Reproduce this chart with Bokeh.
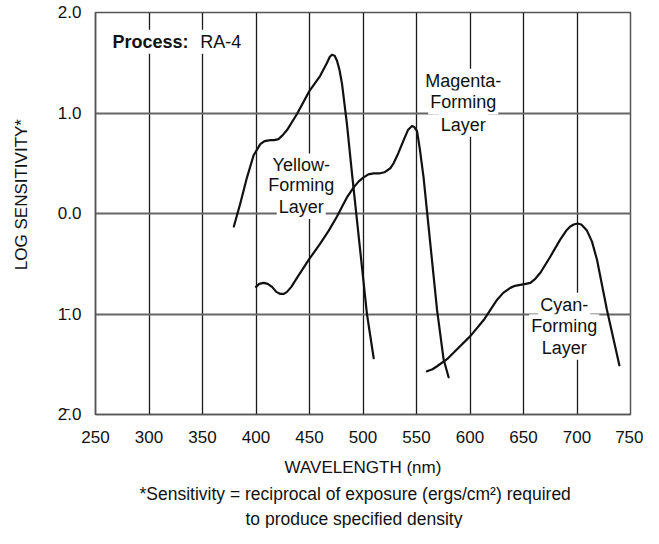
from bokeh.plotting import figure
from bokeh.models import Range1d, Label, Title
from bokeh.embed import file_html
from bokeh.resources import INLINE

FONT = "Liberation Sans"

# ---- data ----
x_ticks = [250, 300, 350, 400, 450, 500, 550, 600, 650, 700, 750]
y_ticks = [-2, -1, 0, 1, 2]
y_tick_labels = ["2\u0304.0", "1\u0304.0", "0.0", "1.0", "2.0"]

yellow_nm = [379.3, 385.3, 391.6, 397.8, 404, 408, 413.4, 417, 421, 425, 429, 438.3,
             450, 460, 466.4, 469, 471, 473.5, 475.7, 478, 480.4, 485, 489.7, 494.4,
             503.7, 510]
yellow_val = [-0.13, 0.10, 0.36, 0.58, 0.69, 0.72, 0.73, 0.73, 0.74, 0.78, 0.83, 0.99,
              1.22, 1.37, 1.50, 1.56, 1.58, 1.57, 1.52, 1.43, 1.29, 0.89, 0.40, -0.07,
              -1.0, -1.44]

magenta_nm = [400, 403, 407, 411, 415, 419, 422.7, 426, 429, 433, 438.3, 450, 460, 468,
              475.7, 481, 485, 491.3, 496, 500.6, 505, 510, 516, 520, 525.5, 528.6, 533,
              538, 542, 545.8, 548, 550.5, 553, 556.6, 562.9, 569.2, 575.3, 580]
magenta_val = [-0.73, -0.70, -0.69, -0.70, -0.73, -0.78, -0.80, -0.80, -0.78, -0.73, -0.64,
               -0.45, -0.30, -0.17, -0.03, 0.08, 0.16, 0.26, 0.32, 0.36, 0.39, 0.40, 0.40,
               0.41, 0.45, 0.50, 0.60, 0.73, 0.83, 0.87, 0.86, 0.82, 0.65, 0.36, -0.30,
               -0.96, -1.45, -1.63]

cyan_nm = [559.8, 565, 569.2, 578.5, 587.9, 600.3, 612.8, 625.2, 631, 637.7, 642, 647, 652,
           656.4, 661, 665.8, 675, 684.3, 690, 693.7, 697, 700.6, 704, 709.3, 714, 718.7,
           728, 739.6]
cyan_val = [-1.57, -1.55, -1.52, -1.45, -1.35, -1.22, -1.06, -0.86, -0.79, -0.74, -0.72,
            -0.71, -0.70, -0.69, -0.65, -0.59, -0.43, -0.26, -0.17, -0.13, -0.11, -0.10,
            -0.11, -0.17, -0.28, -0.46, -0.96, -1.51]

# ---- figure ----
p = figure(width=643, height=528, title=None,
           x_range=Range1d(250, 750), y_range=Range1d(-2, 2),
           output_backend="svg", toolbar_location=None,
           min_border_left=95, min_border_right=13,
           min_border_top=12, min_border_bottom=112)
p.background_fill_color = "white"
p.border_fill_color = "white"
p.outline_line_color = "#555555"
p.outline_line_width = 1.5

p.xaxis.ticker = x_ticks
p.yaxis.ticker = y_ticks
p.yaxis.major_label_overrides = {t: s for t, s in zip(y_ticks, y_tick_labels)}

for ax in (p.xaxis[0], p.yaxis[0]):
    ax.axis_line_color = "#555555"
    ax.axis_line_width = 1.5
    ax.major_tick_line_color = None
    ax.minor_tick_line_color = None
    ax.major_tick_out = 0
    ax.major_tick_in = 0
    ax.major_label_text_font = FONT
    ax.major_label_text_font_size = "17px"
    ax.major_label_text_color = "#111111"
    ax.axis_label_text_font = FONT
    ax.axis_label_text_font_size = "17px"
    ax.axis_label_text_font_style = "normal"
    ax.axis_label_text_color = "#111111"
p.xaxis.major_label_standoff = 16
p.yaxis.major_label_standoff = 14
p.xaxis.axis_label = "WAVELENGTH (nm)"
p.xaxis.axis_label_standoff = 12
p.yaxis.axis_label = "\u00a0" * 8 + "LOG SENSITIVITY*"
p.yaxis.axis_label_standoff = 24

p.xgrid.grid_line_color = "#1a1a1a"
p.xgrid.grid_line_width = 1.3
p.ygrid.grid_line_color = "#666666"
p.ygrid.grid_line_width = 2

for xs, ys in ((yellow_nm, yellow_val), (magenta_nm, magenta_val), (cyan_nm, cyan_val)):
    p.line(xs, ys, line_color="#111111", line_width=2.2, line_join="round", line_cap="round")


def lab(x, y, text, size="18px", style="normal", align="center"):
    p.add_layout(Label(x=x, y=y, text=text, text_font=FONT, text_font_size=size,
                       text_font_style=style, text_align=align, text_baseline="middle",
                       text_color="#111111", background_fill_color="white",
                       background_fill_alpha=1.0, padding=2))


# layer labels (white boxes break the grid)
for t, yv in zip(["Yellow-", "Forming", "Layer"], [0.478, 0.280, 0.065]):
    lab(442.3, yv, t)
for t, yv in zip(["Magenta-", "Forming", "Layer"], [1.32, 1.105, 0.884]):
    lab(593.7, yv, t)
for t, yv in zip(["Cyan-", "Forming", "Layer"], [-0.908, -1.123, -1.337]):
    lab(688.1, yv, t)

lab(264.0, 1.709, "Process:", style="bold", align="left")
lab(346.0, 1.709, "RA-4", align="left")

# footnote
foot1 = Title(text="*Sensitivity = reciprocal of exposure (ergs/cm\u00b2) required",
              align="left", offset=44, standoff=5, text_font=FONT,
              text_font_size="17.5px", text_font_style="normal", text_color="#111111")
foot2 = Title(text="to produce specified density", align="left", offset=150,
              standoff=0, text_font=FONT, text_font_size="17.5px",
              text_font_style="normal", text_color="#111111")
p.add_layout(foot1, "below")
p.add_layout(foot2, "below")

open("out.html", "w").write(file_html(p, INLINE))
